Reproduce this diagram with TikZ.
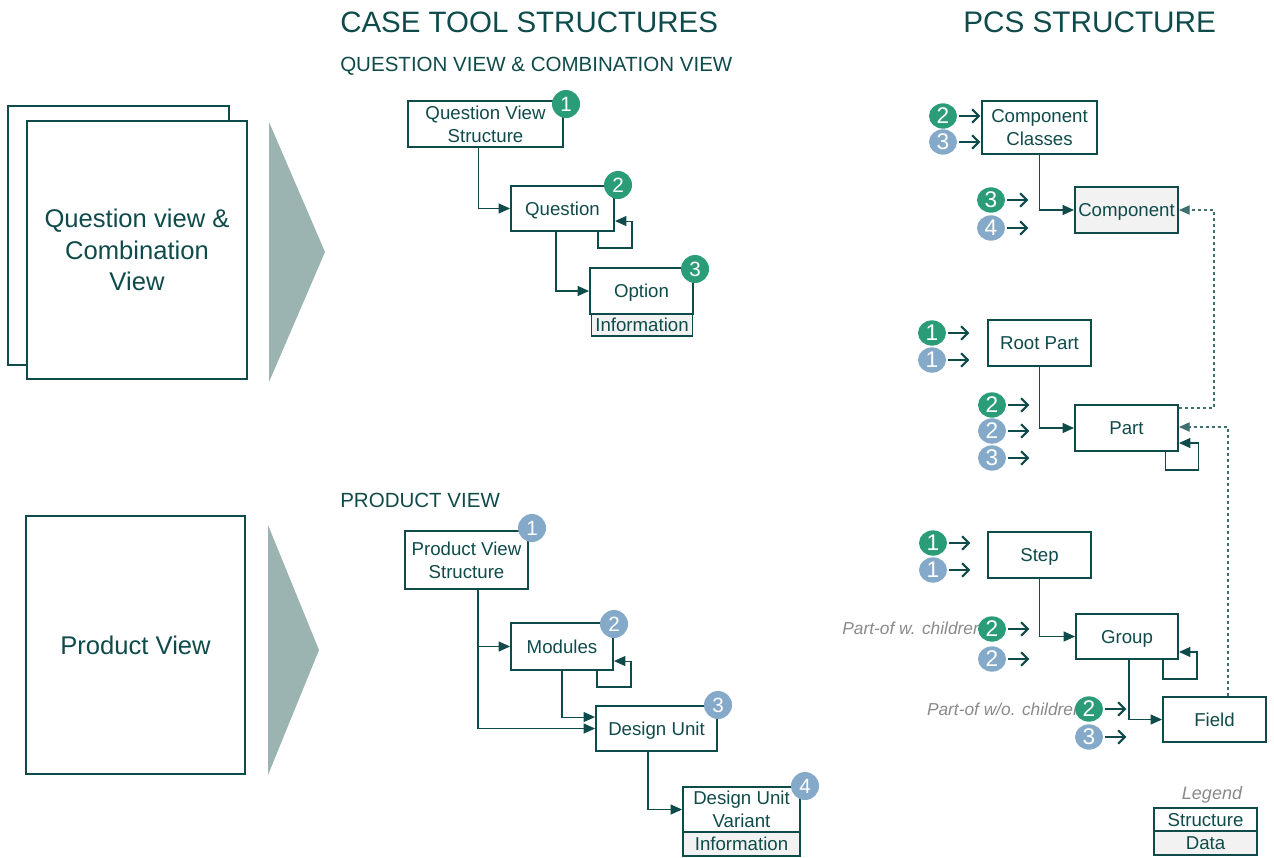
\documentclass[tikz,border=0pt]{standalone}
\usepackage{fontspec}
\setmainfont{Liberation Sans}
\usetikzlibrary{arrows.meta,shapes.geometric}
\definecolor{tdark}{HTML}{104B4B}
\definecolor{bgreen}{HTML}{2B9C78}
\definecolor{bblue}{HTML}{84A9C9}
\definecolor{tri}{HTML}{9BB3B1}
\definecolor{datafill}{HTML}{F2F2F2}
\definecolor{lgray}{HTML}{8A8A8A}
\begin{document}
\begin{tikzpicture}[x=0.75pt,y=-0.75pt,
  box/.style={draw=tdark, line width=1.5pt, fill=white, text=tdark, font=\fontsize{14}{17.3}\selectfont, align=center, inner sep=0pt, text depth=0pt},
  datab/.style={box, fill=datafill},
  bigbox/.style={draw=tdark, line width=1.5pt, fill=white, text=tdark, font=\fontsize{19.2}{23.5}\selectfont, align=center, inner sep=0pt},
  conn/.style={draw=tdark, line width=0.8pt, -{Triangle[length=8.5pt,width=7.5pt]}},
  dconn/.style={draw=tdark!80, line width=0.8pt, dash pattern=on 2.5pt off 2pt, -{Triangle[length=8pt,width=7pt]}},
  gb/.style={circle, fill=bgreen, text=white, minimum size=21pt, inner sep=0pt, font=\fontsize{15.5}{15.5}\selectfont},
  bb/.style={gb, fill=bblue},
  pg/.style={ellipse, fill=bgreen, text=white, minimum width=21pt, minimum height=19pt, inner sep=0pt, font=\fontsize{17}{17}\selectfont},
  pb/.style={pg, fill=bblue},
  barrow/.style={draw=tdark, line width=1.6pt, -{Straight Barb[length=5pt,width=10pt]}},
  head/.style={anchor=west, inner sep=0pt, text=tdark},
  lab/.style={anchor=east, inner sep=0pt, text=lgray, font=\fontsize{13}{14}\selectfont\itshape}
]
\useasboundingbox (0,0) rectangle (1274,857);
\fill[white] (0,0) rectangle (1274,857);

% headings
\node[head, font=\fontsize{22.1}{24}\selectfont] (h1) at (340,22) {CASE TOOL STRUCTURES};
\node[head, font=\fontsize{22.3}{24}\selectfont] (h2) at (963,22) {PCS STRUCTURE};
\node[head, font=\fontsize{15.4}{17}\selectfont] (h3) at (340,66) {QUESTION VIEW \& COMBINATION VIEW};
\node[head, font=\fontsize{15.4}{17}\selectfont] (h4) at (340,500) {PRODUCT VIEW};

% left big boxes
\node[bigbox, minimum width=165.75pt, minimum height=194.25pt] (qback) at (118.5,235.5) {};
\node[bigbox, minimum width=165pt, minimum height=193.5pt] (qfront) at (137,250) {Question view \&\\Combination\\View};
\node[bigbox, minimum width=164.25pt, minimum height=193.5pt] (pv) at (135.5,645) {Product View};

% chevrons
\fill[tri] (269,122) -- (325,252) -- (269,382) -- cycle;
\fill[tri] (268,525) -- (319,650) -- (268,775) -- cycle;

% question view section
\node[box, minimum width=116.25pt, minimum height=34.5pt] (qvs) at (485.5,124) {Question View\\Structure};
\node[box, minimum width=77.25pt, minimum height=33.75pt] (question) at (562.5,208.5) {Question};
\node[box, minimum width=77.25pt, minimum height=34.5pt] (option) at (641.5,291) {Option};
\node[datab, line width=1.2pt, minimum width=76pt, minimum height=16.5pt] (info1) at (642,325) {Information};

\draw[conn] ([xshift=-5.6pt]qvs.south) |- (question.west);
\draw[conn] ([xshift=26.6pt]question.south) -- ++(0,16) -- ++(34,0) |- ([yshift=-9.4pt]question.east);
\draw[conn] ([xshift=-4.9pt]question.south) |- (option.west);

% product view section
\node[box, minimum width=92.25pt, minimum height=43.5pt] (pvs) at (466.5,560) {Product View\\Structure};
\node[box, minimum width=76.5pt, minimum height=35.25pt] (modules) at (562,646.5) {Modules};
\node[box, minimum width=90.75pt, minimum height=33.75pt] (du) at (656.5,728.5) {Design Unit};
\node[box, minimum width=87.75pt, minimum height=33.75pt] (duv) at (741.5,809.5) {Design Unit\\Variant};
\node[datab, minimum width=87.75pt, minimum height=18pt] (info2) at (741.5,844) {Information};

\draw[conn] ([xshift=8.6pt]pvs.south) |- (modules.west);
\draw[conn] ([xshift=8.6pt]pvs.south) |- (du.west);
\draw[conn] ([xshift=26.25pt]modules.south) -- ++(0,16) -- ++(34,0) |- ([yshift=-10.9pt]modules.east);
\draw[conn] (modules.south) |- ([yshift=8.6pt]du.west);
\draw[conn] ([xshift=-6.4pt]du.south) |- (duv.west);

% PCS structure
\node[box, minimum width=86.25pt, minimum height=39.75pt] (cc) at (1039.5,127.5) {Component\\Classes};
\node[datab, minimum width=77.25pt, minimum height=34.5pt] (component) at (1126.5,210) {Component};
\node[box, minimum width=77.25pt, minimum height=34.5pt] (rootpart) at (1039.5,343) {Root Part};
\node[box, minimum width=77.25pt, minimum height=34.5pt] (part) at (1126.5,428) {Part};
\node[box, minimum width=77.25pt, minimum height=34.5pt] (stepb) at (1039.5,555) {Step};
\node[box, minimum width=76.5pt, minimum height=33.75pt] (group) at (1127,636.5) {Group};
\node[box, minimum width=77.25pt, minimum height=33.75pt] (field) at (1214.5,719.5) {Field};

\draw[conn] (cc.south) |- (component.west);
\draw[conn] (rootpart.south) |- (part.west);
\draw[conn] ([xshift=28.9pt]part.south) -- ++(0,18) -- ++(33,0) |- ([yshift=-11.25pt]part.east);
\draw[conn] (stepb.south) |- (group.west);
\draw[conn] ([xshift=27pt]group.south) -- ++(0,19) -- ++(34,0) |- ([yshift=-11.6pt]group.east);
\draw[conn] ([xshift=1.5pt]group.south) |- (field.west);
\draw[dconn] ([yshift=15pt]part.east) -- ++(35,0) |- (component.east);
\draw[dconn] ([xshift=10.1pt]field.north) |- ([yshift=0.75pt]part.east);

% italic labels
\node[lab] (lw) at (983,628) {Part-of w. children};
\node[lab] (lwo) at (1083,709) {Part-of w/o. children};

% legend
\node[inner sep=0pt, text=lgray, font=\fontsize{13.5}{15}\selectfont\itshape] (leg) at (1212,795) {Legend};
\node[box, minimum width=77.25pt, minimum height=17.25pt] (ls) at (1205.5,819.5) {Structure};
\node[datab, minimum width=77.25pt, minimum height=18pt] (ld) at (1205.5,843) {Data};

% left badges
\node[gb] (qb1) at (566,104) {1};
\node[gb] (qb2) at (618,185) {2};
\node[gb] (qb3) at (695,269) {3};
\node[bb] (pb1) at (532,528) {1};
\node[bb] (pb2) at (614,624) {2};
\node[bb] (pb3) at (718,705) {3};
\node[bb] (pb4) at (805,786) {4};

% PCS badges with arrows
\node[pg] (c1) at (943,116) {2};
\node[pb] (c2) at (943,142) {3};
\node[pg] (c3) at (991,200) {3};
\node[pb] (c4) at (991,228) {4};
\node[pg] (r1) at (932,333) {1};
\node[pb] (r2) at (932,360) {1};
\node[pg] (p1) at (992,405) {2};
\node[pb] (p2) at (992,431) {2};
\node[pb] (p3) at (992,458) {3};
\node[pg] (s1) at (933,543) {1};
\node[pb] (s2) at (933,570) {1};
\node[pg] (g1) at (992,629) {2};
\node[pb] (g2) at (992,659) {2};
\node[pg] (f1) at (1089,709) {2};
\node[pb] (f2) at (1089,737) {3};
\foreach \b in {c1,c2,c3,c4,r1,r2,p1,p2,p3,s1,s2,g1,g2,f1,f2}
  \draw[barrow] ([xshift=1.5pt]\b.east) -- ++(21,0);
\end{tikzpicture}
\end{document}
